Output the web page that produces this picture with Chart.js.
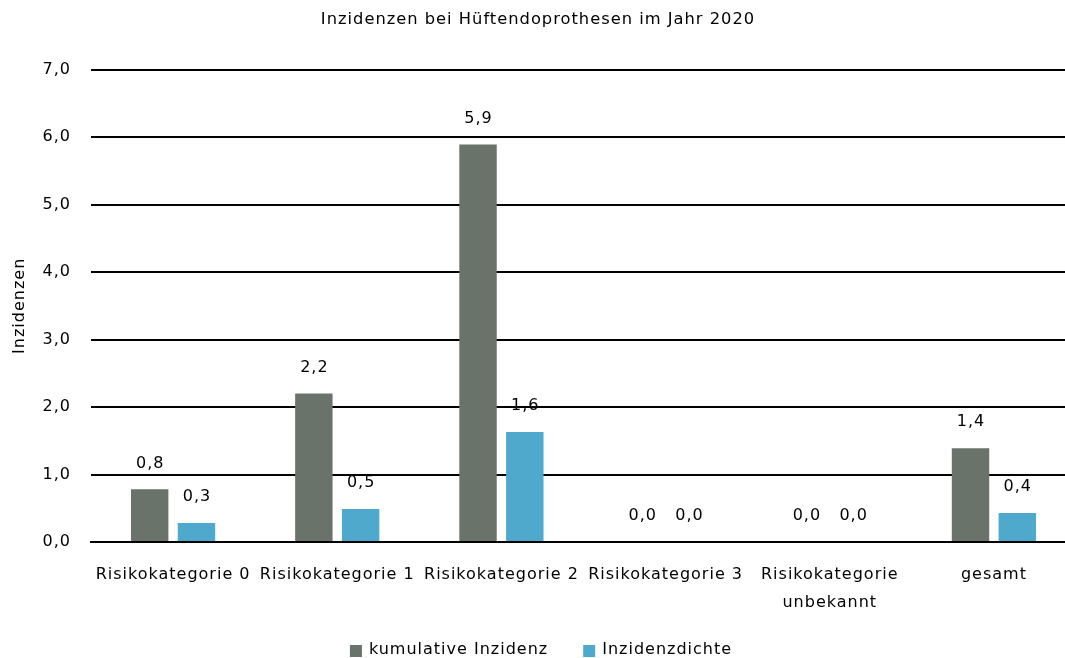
<!DOCTYPE html>
<html>
<head>
<meta charset="utf-8">
<script src="https://cdn.jsdelivr.net/npm/chart.js@4/dist/chart.umd.min.js"></script>
<style>
html,body{margin:0;padding:0;background:#fff;overflow:hidden;}
#wrap{width:1065px;height:658px;position:relative;overflow:hidden;}
#c{position:absolute;left:0;top:0;}
</style>
</head>
<body>
<div id="wrap"><canvas id="c" width="1076" height="658"></canvas></div>
<script>
const categories = ["Risikokategorie 0", "Risikokategorie 1", "Risikokategorie 2", "Risikokategorie 3", ["Risikokategorie", "unbekannt"], "gesamt"];
const kumulativeInzidenz = [0.78, 2.2, 5.89, 0, 0, 1.39];
const inzidenzdichte = [0.28, 0.49, 1.63, 0, 0, 0.43];
const yTicks = [0, 1, 2, 3, 4, 5, 6, 7];

const FONT = "'DejaVu Sans', Verdana, sans-serif";
const SPACING = '1px';
const fmt = v => v.toFixed(1).replace('.', ',');

const spacingPlugin = {
  id: 'spacing',
  beforeInit(chart) { chart.ctx.letterSpacing = SPACING; },
  beforeUpdate(chart) { chart.ctx.letterSpacing = SPACING; },
  beforeDraw(chart) { chart.ctx.letterSpacing = SPACING; }
};

const labelPlugin = {
  id: 'valueLabels',
  afterDatasetsDraw(chart) {
    const ctx = chart.ctx;
    ctx.save();
    ctx.letterSpacing = SPACING;
    ctx.font = "16px " + FONT;
    ctx.fillStyle = '#000';
    ctx.textAlign = 'center';
    ctx.textBaseline = 'middle';
    chart.data.datasets.forEach((ds, i) => {
      const meta = chart.getDatasetMeta(i);
      meta.data.forEach((bar, j) => {
        ctx.fillText(fmt(ds.data[j]), bar.x + 0.5, bar.y - 26);
      });
    });
    ctx.restore();
  }
};

const legendPlugin = {
  id: 'customLegend',
  afterDraw(chart) {
    const ctx = chart.ctx;
    ctx.save();
    ctx.letterSpacing = SPACING;
    ctx.font = "16px " + FONT;
    ctx.textBaseline = 'middle';
    ctx.textAlign = 'left';
    const box = 12, boxGap = 7, itemGap = 35, cy = 650;
    const items = chart.data.datasets.map(ds => ({ text: ds.label, color: ds.backgroundColor, w: ctx.measureText(ds.label).width }));
    const total = items.reduce((s, it) => s + box + boxGap + it.w, 0) + itemGap * (items.length - 1);
    let x = 541 - total / 2;
    items.forEach(it => {
      ctx.fillStyle = it.color;
      ctx.fillRect(x, cy - box / 2 + 1, box, box);
      x += box + boxGap;
      ctx.fillStyle = '#000';
      ctx.fillText(it.text, x, cy);
      x += it.w + itemGap;
    });
    ctx.restore();
  }
};

new Chart(document.getElementById('c'), {
  type: 'bar',
  data: {
    labels: categories,
    datasets: [
      { label: 'kumulative Inzidenz', data: kumulativeInzidenz, backgroundColor: '#69736a', categoryPercentage: 0.57, barPercentage: 0.8 },
      { label: 'Inzidenzdichte', data: inzidenzdichte, backgroundColor: '#4ea9cc', categoryPercentage: 0.57, barPercentage: 0.8 }
    ]
  },
  options: {
    responsive: false,
    animation: false,
    devicePixelRatio: 1,
    layout: { padding: { left: 0, right: 0, top: 10, bottom: 0 } },
    plugins: {
      title: { display: true, text: 'Inzidenzen bei Hüftendoprothesen im Jahr 2020', color: '#000', font: { family: FONT, size: 16.3, weight: 'normal' }, padding: { top: 0, bottom: 40 } },
      legend: { display: false },
      tooltip: { enabled: false }
    },
    scales: {
      x: {
        afterFit: s => { s.height = 116; },
        grid: { display: false, drawTicks: false },
        border: { display: true, color: '#000', width: 2 },
        ticks: { color: '#000', font: { family: FONT, size: 16, lineHeight: 1.75 }, padding: 19, maxRotation: 0, autoSkip: false }
      },
      y: {
        min: 0, max: 7,
        afterBuildTicks: s => { s.ticks = yTicks.map(v => ({ value: v })); },
        afterFit: s => { s.width = 91; },
        grid: { color: '#000', lineWidth: 2, drawTicks: false },
        border: { display: false },
        ticks: { color: '#000', font: { family: FONT, size: 16 }, padding: 20, callback: v => fmt(v) },
        title: { display: true, text: 'Inzidenzen', color: '#000', font: { family: FONT, size: 16 }, padding: { top: 10, bottom: 10 } }
      }
    }
  },
  plugins: [spacingPlugin, labelPlugin, legendPlugin]
});
</script>
</body>
</html>
